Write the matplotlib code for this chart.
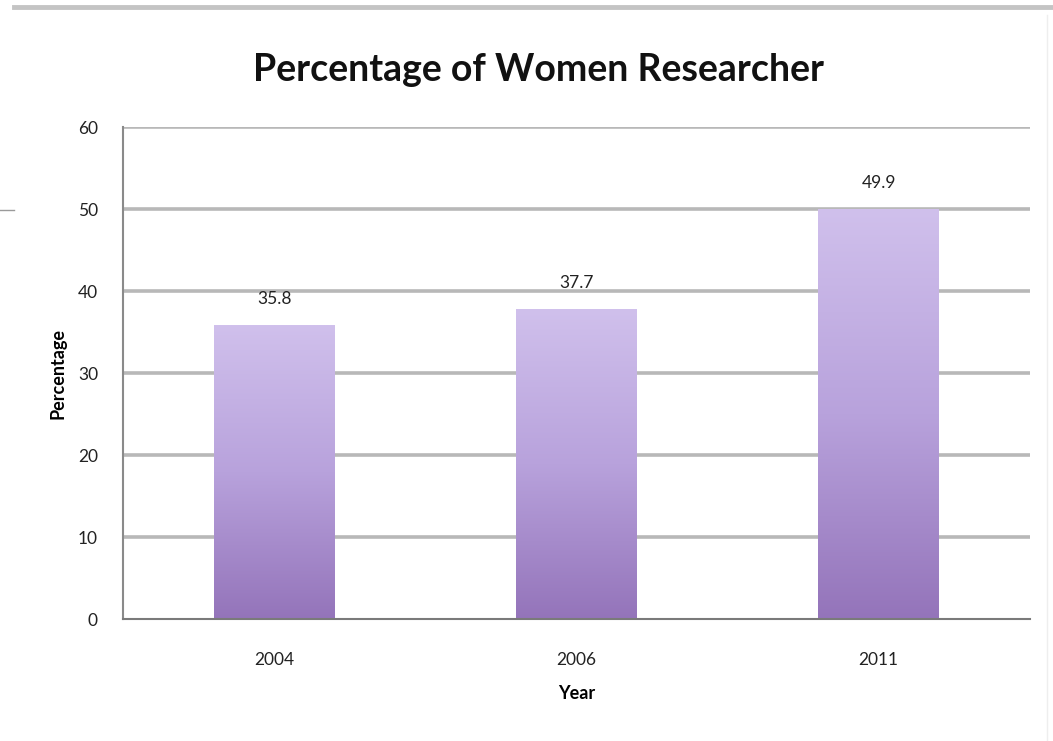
import matplotlib
matplotlib.use("Agg")
import matplotlib.pyplot as plt
import numpy as np
from matplotlib.colors import LinearSegmentedColormap
from matplotlib.lines import Line2D

plt.rcParams['font.family'] = ['Lato', 'DejaVu Sans']

years = ['2004', '2006', '2011']
percent = [35.8, 37.7, 49.9]
yticks = [0, 10, 20, 30, 40, 50, 60]

fig = plt.figure(figsize=(10.53, 7.41), dpi=100)
ax = fig.add_axes([0.1168, 0.1646, 0.8612, 0.664])

# vertical purple gradient, dark at the base, light at the top
grad = LinearSegmentedColormap.from_list('lav', ['#9474ba', '#b8a2dc', '#d0c0ec'])
shade = np.linspace(0, 1, 256).reshape(-1, 1)

width = 0.4
xs = np.arange(len(years))
for x, v in zip(xs, percent):
    ax.imshow(shade, cmap=grad, origin='lower', aspect='auto',
              extent=[x - width / 2, x + width / 2, 0, v], zorder=2)
    ax.text(x, v + 2.3, f'{v}', ha='center', va='bottom', fontsize=12.5,
            color='#222222')

ax.set_xlim(-0.5, len(years) - 0.5)
ax.set_ylim(0, 60)
ax.set_yticks(yticks)
ax.set_xticks(xs)
ax.set_xticklabels(years)
ax.tick_params(length=0, labelsize=12.5, colors='#222222')
ax.tick_params(axis='y', pad=18)
ax.tick_params(axis='x', pad=24)

for y in yticks[1:]:
    ax.axhline(y, color='#b8b8b8', lw=2.6, zorder=1)

for s in ['top', 'right']:
    ax.spines[s].set_visible(False)
ax.spines['left'].set_color('#8a8a8a')
ax.spines['bottom'].set_color('#7a7a7a')
ax.spines['left'].set_linewidth(1.5)
ax.spines['bottom'].set_linewidth(1.5)

ax.set_ylabel('Percentage', fontsize=13, fontweight='bold', labelpad=8)
ax.set_xlabel('Year', fontsize=13, fontweight='bold', labelpad=12)
fig.text(0.511, 0.906, 'Percentage of Women Researcher', ha='center',
         va='center', fontsize=27, fontweight='bold', color='#111111')

# frame lines around the slide
fig.add_artist(Line2D([0.013, 1], [0.991, 0.991], color='#c4c4c4', lw=3.5))
fig.add_artist(Line2D([0, 0.013], [0.717, 0.717], color='#9a9a9a', lw=1))
fig.add_artist(Line2D([0.994, 0.994], [0.0, 0.98], color='#eeeeee', lw=1))

fig.savefig('out.png', dpi=100)
